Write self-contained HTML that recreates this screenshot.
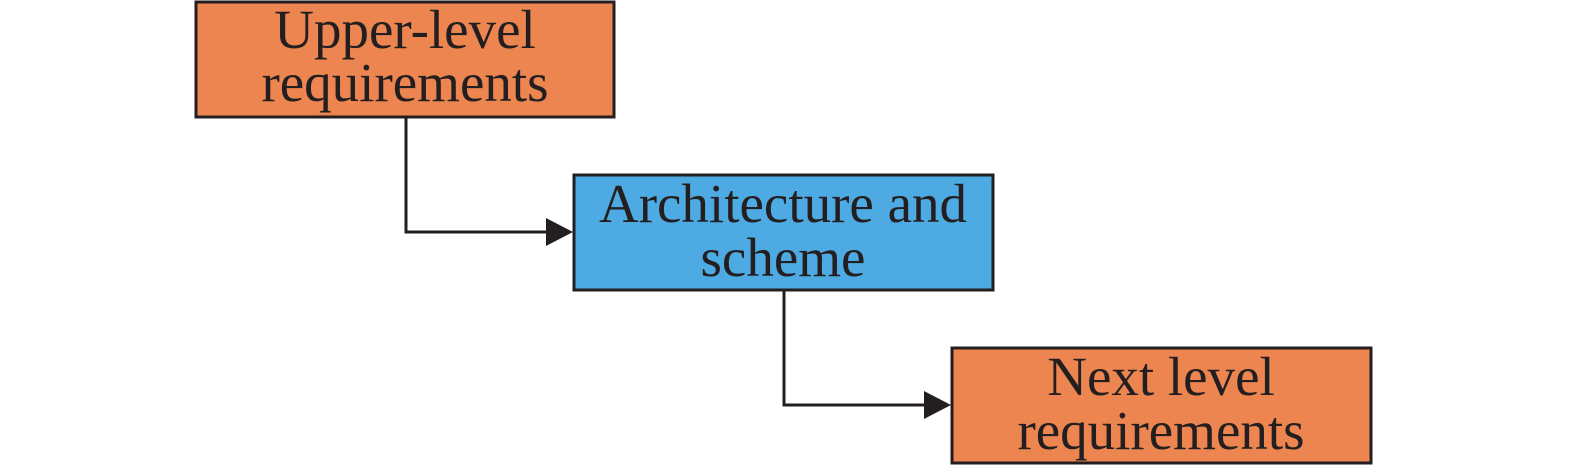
<!DOCTYPE html>
<html><head><style>
body{margin:0;width:1575px;height:467px;background:#fff;overflow:hidden}
text{font-family:"Liberation Serif",serif;font-size:55px;fill:#231f20;text-anchor:middle}
</style></head><body>
<svg width="1575" height="467" xmlns="http://www.w3.org/2000/svg">
<g stroke="#231f20" stroke-width="3">
<rect x="196" y="2" width="418" height="115" fill="#ec8550"/>
<rect x="574" y="175" width="419" height="115" fill="#4eaae2"/>
<rect x="952" y="348" width="419" height="115" fill="#ec8550"/>
<polyline points="406,117 406,232 548,232" fill="none"/>
<polyline points="784,290 784,405 926,405" fill="none"/>
</g>
<polygon points="546,218 573,232 546,246" fill="#231f20"/>
<polygon points="924,391 951,405 924,419" fill="#231f20"/>
<text x="405" y="48">Upper-level</text>
<text x="405" y="101">requirements</text>
<text x="783" y="222">Architecture and</text>
<text x="783" y="276">scheme</text>
<text x="1161" y="395">Next level</text>
<text x="1161" y="449">requirements</text>
</svg>
</body></html>
